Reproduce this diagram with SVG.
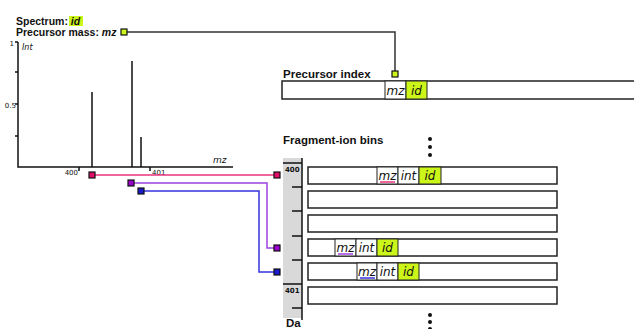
<svg xmlns="http://www.w3.org/2000/svg" width="634" height="329" viewBox="0 0 634 329">
<style>
text{font-family:"DejaVu Sans","Liberation Sans",sans-serif;fill:#111}
.h{font-family:"Liberation Sans",Arial,sans-serif;font-weight:bold;font-size:11.5px}
.t{font-family:"Liberation Sans",Arial,sans-serif;font-weight:bold;font-size:10.5px}
.c{font-style:italic;font-size:12px;text-anchor:middle}
.ax{font-size:7px}
.row{fill:#fff;stroke:#222;stroke-width:1.5}
.cell{fill:#fff;stroke:#222;stroke-width:1}
.g{fill:#ccf51a;stroke:#222;stroke-width:1}
.k{stroke:#111;stroke-width:1.5;fill:none}
.sq{stroke:#111;stroke-width:1.2}
</style>
<g id="header">
<rect x="69" y="16" width="14" height="10" fill="#ccf51a"/>
<text class="t" x="16" y="24.5">Spectrum: <tspan font-style="italic">id</tspan></text>
<text class="t" x="16" y="35.5">Precursor mass: <tspan font-style="italic">mz</tspan></text>
</g>
<g id="spectrum">
<path class="k" d="M18,42V167H233"/>
<path class="k" stroke-width="1" d="M15,42H18M15,72H18M15,104H18M15,136H18M79,167V171M150,167V171"/>
<text class="ax" x="14" y="46" text-anchor="end">1</text>
<text class="ax" x="16" y="108" text-anchor="end">0.5</text>
<text x="22" y="50" font-size="8" font-style="italic">Int</text>
<text class="ax" x="78" y="175" text-anchor="end">400</text>
<text class="ax" x="152" y="175">401</text>
<text x="213" y="163" font-size="9" font-style="italic">mz</text>
<path class="k" stroke-width="2" d="M92,167V92M132,167V61M141,167V137"/>
</g>
<g id="connectors" fill="none" stroke-width="1.5">
<path d="M124,32H395V74" stroke="#333"/>
<path d="M92,175H277" stroke="#e8337a"/>
<path d="M131,183H267V248H277" stroke="#a040e0"/>
<path d="M141,191H259V272H277" stroke="#3333dd"/>
</g>
<g id="squares">
<rect class="sq" x="121" y="29" width="6" height="6" fill="#ccf51a"/>
<rect class="sq" x="392" y="71" width="6" height="6" fill="#ccf51a"/>
<rect class="sq" x="89" y="172" width="6" height="6" fill="#e0106a"/>
<rect class="sq" x="274" y="172" width="6" height="6" fill="#e0106a"/>
<rect class="sq" x="128" y="180" width="6" height="6" fill="#9900cc"/>
<rect class="sq" x="274" y="245" width="6" height="6" fill="#9900cc"/>
<rect class="sq" x="138" y="188" width="6" height="6" fill="#1a1acc"/>
<rect class="sq" x="274" y="269" width="6" height="6" fill="#1a1acc"/>
</g>
<g id="precursor-index">
<text class="h" x="283" y="77.5">Precursor index</text>
<rect class="row" x="282" y="81" width="360" height="18"/>
<rect class="cell" x="385" y="81" width="21" height="18"/>
<rect class="g" x="406" y="81" width="21" height="18"/>
<text class="c" x="395.5" y="94.5">mz</text>
<text class="c" x="416.5" y="94.5">id</text>
</g>
<g id="ruler">
<rect x="283" y="158" width="19" height="160" fill="#d9d9d9"/>
<path class="k" d="M302,158V320"/>
<path class="k" d="M283,163H302M292,187H302M292,211H302M292,236H302M292,260H302M283,284H302M292,308H302"/>
<text x="285" y="172" font-size="7" font-weight="bold">400</text>
<text x="285" y="293" font-size="7" font-weight="bold">401</text>
<text class="h" x="286" y="327">Da</text>
</g>
<g id="fragment-bins">
<text class="h" x="283" y="144">Fragment-ion bins</text>
<g fill="#111"><circle cx="430" cy="139" r="2"/><circle cx="430" cy="147" r="2"/><circle cx="430" cy="155" r="2"/><circle cx="430" cy="315" r="2"/><circle cx="430" cy="322" r="2"/><circle cx="430" cy="329" r="2"/></g>
<rect class="row" x="308" y="167" width="249" height="17"/>
<rect class="row" x="308" y="191" width="249" height="17"/>
<rect class="row" x="308" y="215" width="249" height="17"/>
<rect class="row" x="308" y="239" width="249" height="17"/>
<rect class="row" x="308" y="263" width="249" height="17"/>
<rect class="row" x="308" y="287" width="249" height="17"/>
</g>
<g id="bin-400">
<rect class="cell" x="377" y="167" width="21" height="17"/>
<rect class="cell" x="398" y="167" width="21" height="17"/>
<rect class="g" x="419" y="167" width="22" height="17"/>
<text class="c" x="387.5" y="180">mz</text>
<path d="M380,182H395" stroke="#e8337a" stroke-width="1.5"/>
<text class="c" x="408.5" y="180">int</text>
<text class="c" x="430" y="180">id</text>
</g>
<g id="bin-purple">
<rect class="cell" x="335" y="239" width="21" height="17"/>
<rect class="cell" x="356" y="239" width="21" height="17"/>
<rect class="g" x="377" y="239" width="21" height="17"/>
<text class="c" x="345.5" y="252">mz</text>
<path d="M338,254H353" stroke="#a040e0" stroke-width="1.5"/>
<text class="c" x="366.5" y="252">int</text>
<text class="c" x="387.5" y="252">id</text>
</g>
<g id="bin-blue">
<rect class="cell" x="357" y="263" width="20" height="17"/>
<rect class="cell" x="377" y="263" width="21" height="17"/>
<rect class="g" x="398" y="263" width="21" height="17"/>
<text class="c" x="367" y="276">mz</text>
<path d="M360,278H375" stroke="#3333dd" stroke-width="1.5"/>
<text class="c" x="387.5" y="276">int</text>
<text class="c" x="408.5" y="276">id</text>
</g>
</svg>
